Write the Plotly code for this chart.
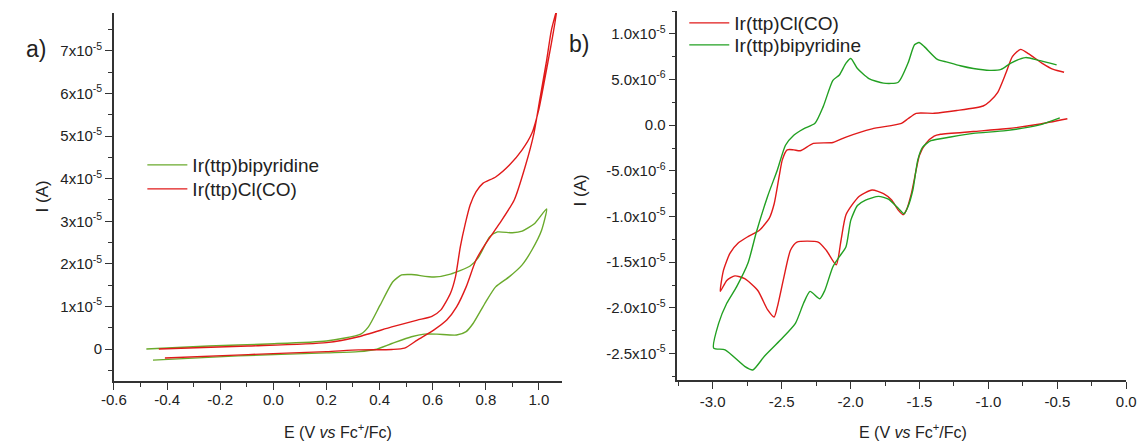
import plotly.graph_objects as go

W, H = 1148, 441
SCALE = 1e-5  # current values below are in units of 1e-5 A

# ---------------- panel a) ----------------
a_bipy_x = [-0.478, -0.243, -0.021, 0.200, 0.329, 0.358, 0.402, 0.450, 0.483, 0.520, 0.605, 0.667,
            0.741, 0.771, 0.815, 0.844, 0.900, 0.937, 0.984, 1.029,
            1.010, 0.973, 0.936, 0.889, 0.837, 0.800, 0.752, 0.726, 0.690, 0.616, 0.568, 0.520,
            0.446, 0.384, 0.321, 0.200, -0.132, -0.453]
a_bipy_y = [0.00, 0.07, 0.12, 0.19, 0.35, 0.52, 1.03, 1.58, 1.74, 1.75, 1.69, 1.76,
            1.95, 2.14, 2.64, 2.75, 2.73, 2.77, 2.95, 3.29,
            2.79, 2.32, 1.97, 1.70, 1.46, 1.11, 0.60, 0.41, 0.33, 0.35, 0.35, 0.29,
            0.13, -0.01, -0.06, -0.09, -0.16, -0.26]

a_clco_x = [-0.431, -0.095, 0.200, 0.321, 0.446, 0.542, 0.597, 0.631, 0.667, 0.686, 0.704, 0.723,
            0.741, 0.763, 0.789, 0.837, 0.889, 0.936, 0.973, 0.999, 1.021, 1.047, 1.069,
            1.047, 1.029, 1.003, 0.981, 0.948, 0.907, 0.852, 0.800, 0.763, 0.726, 0.690, 0.653,
            0.605, 0.542, 0.494, 0.446, 0.321, 0.200, -0.095, -0.408]
a_clco_y = [0.00, 0.07, 0.15, 0.29, 0.52, 0.68, 0.77, 0.92, 1.31, 1.70, 2.40, 2.95,
            3.38, 3.69, 3.89, 4.04, 4.32, 4.67, 5.06, 5.61, 6.31, 7.18, 8.00,
            7.49, 6.78, 5.85, 5.06, 4.28, 3.50, 2.95, 2.48, 2.09, 1.46, 0.99, 0.68,
            0.45, 0.21, 0.02, -0.01, -0.02, -0.06, -0.13, -0.21]

a_xticks = [-0.6, -0.4, -0.2, 0.0, 0.2, 0.4, 0.6, 0.8, 1.0]
a_xticktext = ["-0.6", "-0.4", "-0.2", "0.0", "0.2", "0.4", "0.6", "0.8", "1.0"]
a_yticks = [0, 1, 2, 3, 4, 5, 6, 7]
a_yticktext = ["0"] + [f"{v}x10<sup>-5</sup>" for v in a_yticks[1:]]

# ---------------- panel b) ----------------
b_clco_x = [-0.427, -0.635, -0.873, -1.109, -1.346, -1.394, -1.453, -1.500, -1.524, -1.559, -1.595,
            -1.619, -1.654, -1.702, -1.761, -1.844, -1.939, -2.033, -2.069, -2.104, -2.176, -2.235,
            -2.389, -2.436, -2.483, -2.531, -2.554, -2.602, -2.673, -2.768, -2.839, -2.898, -2.945,
            -2.922, -2.874, -2.815, -2.744, -2.661, -2.590, -2.554, -2.519, -2.495, -2.460, -2.412,
            -2.365, -2.270, -2.128, -2.033, -1.844, -1.631, -1.584, -1.524, -1.394, -1.229, -1.038,
            -0.991, -0.932, -0.873, -0.826, -0.766, -0.707, -0.612, -0.529, -0.451]
b_clco_y = [0.07, 0.01, -0.04, -0.07, -0.10, -0.12, -0.20, -0.33, -0.49, -0.75, -0.93,
            -0.98, -0.93, -0.82, -0.75, -0.71, -0.78, -0.98, -1.26, -1.53, -1.37, -1.28,
            -1.28, -1.37, -1.66, -1.99, -2.10, -2.02, -1.81, -1.68, -1.65, -1.70, -1.82,
            -1.59, -1.40, -1.29, -1.22, -1.15, -1.02, -0.86, -0.57, -0.38, -0.27, -0.27,
            -0.28, -0.20, -0.19, -0.13, -0.04, 0.02, 0.07, 0.13, 0.13, 0.16, 0.21,
            0.26, 0.36, 0.57, 0.75, 0.83, 0.78, 0.68, 0.61, 0.58]

b_bipy_x = [-0.482, -0.635, -0.873, -1.109, -1.275, -1.417, -1.477, -1.512, -1.548, -1.583, -1.612,
            -1.654, -1.725, -1.796, -1.891, -1.950, -1.998, -2.033, -2.081, -2.128, -2.187, -2.223,
            -2.294, -2.341, -2.400, -2.507, -2.625, -2.709, -2.768, -2.910, -2.993,
            -2.957, -2.898, -2.827, -2.744, -2.685, -2.602, -2.531, -2.472, -2.412, -2.341, -2.258,
            -2.199, -2.128, -2.081, -2.033, -1.998, -1.950, -1.867, -1.761, -1.654, -1.583, -1.536,
            -1.503, -1.465, -1.370, -1.299, -1.204, -1.109, -0.991, -0.908, -0.837, -0.730, -0.635,
            -0.505]
b_bipy_y = [0.08, 0.00, -0.06, -0.09, -0.13, -0.17, -0.24, -0.38, -0.71, -0.89, -0.97,
            -0.91, -0.81, -0.78, -0.82, -0.88, -1.04, -1.33, -1.44, -1.55, -1.81, -1.90,
            -1.82, -1.95, -2.17, -2.35, -2.53, -2.68, -2.64, -2.46, -2.44,
            -2.17, -1.95, -1.77, -1.51, -1.18, -0.78, -0.49, -0.22, -0.11, -0.04, 0.02,
            0.20, 0.49, 0.55, 0.68, 0.73, 0.62, 0.51, 0.46, 0.47, 0.68, 0.88,
            0.905, 0.86, 0.72, 0.69, 0.65, 0.62, 0.60, 0.61, 0.68, 0.74, 0.71,
            0.66]

b_xticks = [-3.0, -2.5, -2.0, -1.5, -1.0, -0.5, 0.0]
b_xticktext = ["-3.0", "-2.5", "-2.0", "-1.5", "-1.0", "-0.5", "0.0"]
b_yticks = [1.0, 0.5, 0.0, -0.5, -1.0, -1.5, -2.0, -2.5]
b_yticktext = ["1.0x10<sup>-5</sup>", "5.0x10<sup>-6</sup>", "0.0", "-5.0x10<sup>-6</sup>",
               "-1.0x10<sup>-5</sup>", "-1.5x10<sup>-5</sup>", "-2.0x10<sup>-5</sup>",
               "-2.5x10<sup>-5</sup>"]

RED = "#e01a1a"
GREEN_A = "#6aaa2c"
GREEN_B = "#22a022"
FONT = "Arial, Liberation Sans, sans-serif"
AX = "#333333"


def sc(v):
    return [t * SCALE for t in v]


def px_x(p):
    return p / W


def px_y(p):
    return 1 - p / H


fig = go.Figure()
fig.add_trace(go.Scatter(x=a_bipy_x, y=sc(a_bipy_y), mode="lines", name="Ir(ttp)bipyridine",
                         line=dict(color=GREEN_A, width=1.4, shape="spline", smoothing=0.6),
                         xaxis="x", yaxis="y", legend="legend"))
fig.add_trace(go.Scatter(x=a_clco_x, y=sc(a_clco_y), mode="lines", name="Ir(ttp)Cl(CO)",
                         line=dict(color=RED, width=1.4, shape="spline", smoothing=0.6),
                         xaxis="x", yaxis="y", legend="legend3"))
fig.add_trace(go.Scatter(x=b_clco_x, y=sc(b_clco_y), mode="lines", name="Ir(ttp)Cl(CO)",
                         line=dict(color=RED, width=1.4, shape="spline", smoothing=0.6),
                         xaxis="x2", yaxis="y2", legend="legend2"))
fig.add_trace(go.Scatter(x=b_bipy_x, y=sc(b_bipy_y), mode="lines", name="Ir(ttp)bipyridine",
                         line=dict(color=GREEN_B, width=1.4, shape="spline", smoothing=0.6),
                         xaxis="x2", yaxis="y2", legend="legend4"))

common = dict(showline=True, linecolor=AX, linewidth=1.5, ticks="outside", ticklen=7,
              tickwidth=1.3, tickcolor=AX, showgrid=False, zeroline=False,
              tickfont=dict(family=FONT, size=15, color="#222"), fixedrange=True)
minor_common = dict(ticks="outside", ticklen=4, tickcolor=AX, tickwidth=1.2)


def leg(xp, yp):
    # legend positioned so that its entry is vertically centred at pixel yp
    return dict(x=px_x(xp), y=px_y(yp), xanchor="left", yanchor="middle",
                bgcolor="rgba(0,0,0,0)", font=dict(family=FONT, size=19, color="#222"),
                itemwidth=40, borderwidth=0)


fig.update_layout(
    width=W, height=H, margin=dict(l=0, r=0, t=0, b=0),
    paper_bgcolor="white", plot_bgcolor="white",
    font=dict(family=FONT, color="#222"),
    xaxis=dict(domain=[px_x(103), px_x(560)], range=[-0.6, 1.086], anchor="y",
               tickmode="array", tickvals=a_xticks, ticktext=a_xticktext, ticklabelstandoff=-3,
               minor=dict(tickmode="array", tickvals=[-0.5, -0.3, -0.1, 0.1, 0.3, 0.5, 0.7, 0.9],
                          **minor_common),
               **common),
    yaxis=dict(domain=[px_y(381), px_y(13)], range=[-0.75e-5, 7.89e-5], anchor="x",
               tickmode="array", tickvals=sc(a_yticks), ticktext=a_yticktext,
               minor=dict(tickmode="array", tickvals=sc([-0.5, 0.5, 1.5, 2.5, 3.5, 4.5, 5.5, 6.5, 7.5]),
                          **minor_common),
               **common),
    xaxis2=dict(domain=[px_x(678), px_x(1136)], range=[-3.256, 0.0], anchor="y2",
                tickmode="array", tickvals=b_xticks, ticktext=b_xticktext, ticklabelstandoff=0,
                minor=dict(tickmode="array", tickvals=[-3.25, -2.75, -2.25, -1.75, -1.25, -0.75, -0.25],
                           **minor_common),
                **common),
    yaxis2=dict(domain=[px_y(380), px_y(11)], range=[-2.79e-5, 1.25e-5], anchor="x2",
                tickmode="array", tickvals=sc(b_yticks), ticktext=b_yticktext,
                minor=dict(tickmode="array",
                           tickvals=sc([1.25, 0.75, 0.25, -0.25, -0.75, -1.25, -1.75, -2.25, -2.75]),
                           **minor_common),
                **common),
    legend=leg(132, 165),
    legend3=leg(132, 189),
    legend2=leg(685, 23),
    legend4=leg(685, 45),
    showlegend=True,
)

title_font = dict(family=FONT, size=16, color="#222")
annots = [
    dict(text="E (V <i>vs</i> Fc<sup>+</sup>/Fc)", x=px_x(332), y=px_y(431), font=title_font),
    dict(text="E (V <i>vs</i> Fc<sup>+</sup>/Fc)", x=px_x(918), y=px_y(431), font=title_font),
    dict(text="I (A)", x=px_x(30), y=px_y(196), textangle=-90, font=dict(family=FONT, size=17, color="#222")),
    dict(text="I (A)", x=px_x(580), y=px_y(190), textangle=-90, font=dict(family=FONT, size=17, color="#222")),
    dict(text="a)", x=px_x(23), y=px_y(49), font=dict(family=FONT, size=23, color="#222")),
    dict(text="b)", x=px_x(578), y=px_y(44), font=dict(family=FONT, size=23, color="#222")),
]
for a in annots:
    fig.add_annotation(xref="paper", yref="paper", showarrow=False,
                       xanchor="center", yanchor="middle", **a)

fig.write_html("out.html")
